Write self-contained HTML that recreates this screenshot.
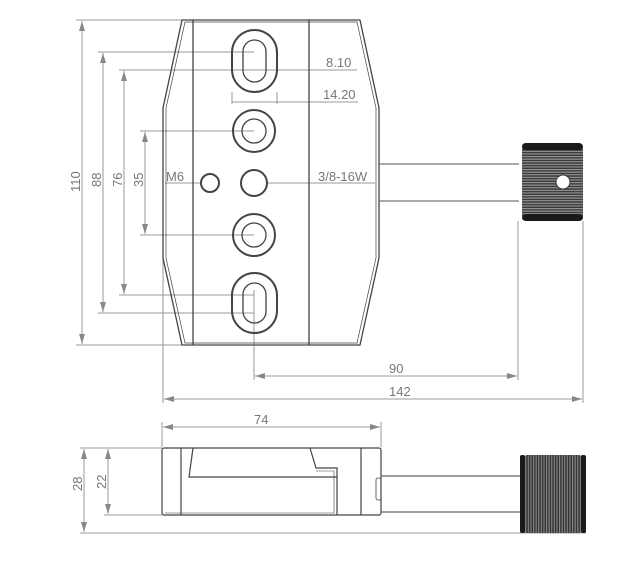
<!DOCTYPE html>
<html><head><meta charset="utf-8"><style>
html,body{margin:0;padding:0;background:#fff;}
svg{display:block;}
text{font-family:"Liberation Sans",sans-serif;fill:#777;font-size:13px;}
</style></head><body>
<svg width="640" height="577" viewBox="0 0 640 577" xmlns="http://www.w3.org/2000/svg">
<defs>
<pattern id="hs" width="4" height="2.6" patternUnits="userSpaceOnUse"><rect width="4" height="2.6" fill="#3a3a3a"/><rect width="4" height="1.1" fill="#999"/></pattern>
<pattern id="vs" width="2.6" height="4" patternUnits="userSpaceOnUse"><rect width="2.6" height="4" fill="#333"/><rect width="1.1" height="4" fill="#888"/></pattern>
<marker id="a" viewBox="0 0 10 6" refX="10" refY="3" markerWidth="10" markerHeight="6" orient="auto-start-reverse" markerUnits="userSpaceOnUse"><path d="M0,0 L10,3 L0,6z" fill="#888"/></marker>
</defs>
<g stroke="#999" stroke-width="1" fill="none">
<line x1="76" y1="20" x2="182" y2="20"/>
<line x1="76" y1="345" x2="182" y2="345"/>
<line x1="98" y1="52" x2="254" y2="52"/>
<line x1="98" y1="313" x2="254" y2="313"/>
<line x1="119" y1="70" x2="254" y2="70"/>
<line x1="119" y1="295" x2="254" y2="295"/>
<line x1="140" y1="131" x2="254" y2="131"/>
<line x1="140" y1="235" x2="254" y2="235"/>
<line x1="163" y1="258" x2="163" y2="403"/>
<line x1="254" y1="290" x2="254" y2="380"/>
<line x1="518" y1="221" x2="518" y2="380"/>
<line x1="583" y1="221" x2="583" y2="403"/>
<line x1="82" y1="21" x2="82" y2="344" marker-start="url(#a)" marker-end="url(#a)"/>
<line x1="103" y1="53" x2="103" y2="312" marker-start="url(#a)" marker-end="url(#a)"/>
<line x1="124" y1="71" x2="124" y2="294" marker-start="url(#a)" marker-end="url(#a)"/>
<line x1="145" y1="132" x2="145" y2="234" marker-start="url(#a)" marker-end="url(#a)"/>
<line x1="255" y1="376" x2="517" y2="376" marker-start="url(#a)" marker-end="url(#a)"/>
<line x1="164" y1="399" x2="582" y2="399" marker-start="url(#a)" marker-end="url(#a)"/>
<line x1="243" y1="70" x2="357" y2="70"/>
<line x1="232" y1="102" x2="358" y2="102"/>
<line x1="232" y1="92" x2="232" y2="104"/><line x1="277" y1="92" x2="277" y2="104"/>
<line x1="267" y1="183" x2="375" y2="183"/>
<line x1="165" y1="183" x2="201" y2="183"/>
<line x1="162" y1="422" x2="162" y2="447"/>
<line x1="381" y1="422" x2="381" y2="447"/>
<line x1="163" y1="427" x2="380" y2="427" marker-start="url(#a)" marker-end="url(#a)"/>
<line x1="80" y1="448" x2="162" y2="448"/>
<line x1="104" y1="515" x2="162" y2="515"/>
<line x1="80" y1="533" x2="586" y2="533"/>
<line x1="84" y1="449" x2="84" y2="532" marker-start="url(#a)" marker-end="url(#a)"/>
<line x1="108" y1="449" x2="108" y2="514" marker-start="url(#a)" marker-end="url(#a)"/>
</g>
<g stroke="#444" stroke-width="1.3" fill="none">
<path d="M182,20 L360,20 L379,108 L379,258 L360,345 L182,345 L163,258 L163,108 Z"/>
<path d="M185,22 L357,22 L376,108 L376,258 L357,343 L185,343 L166,258 L166,108 Z" stroke-width="0.7"/>
<line x1="193" y1="20" x2="193" y2="345"/><line x1="309" y1="20" x2="309" y2="345"/>
<rect x="232" y="30" width="45" height="62" rx="22.5" stroke-width="2"/>
<rect x="243" y="40" width="23" height="42" rx="11.5"/>
<rect x="232" y="273" width="45" height="60" rx="22.5" stroke-width="2"/>
<rect x="243" y="283" width="23" height="40" rx="11.5"/>
<circle cx="254" cy="131" r="21" stroke-width="2"/><circle cx="254" cy="131" r="12"/>
<circle cx="254" cy="235" r="21" stroke-width="2"/><circle cx="254" cy="235" r="12"/>
<circle cx="254" cy="183" r="13" stroke-width="2"/>
<circle cx="210" cy="183" r="9" stroke-width="2"/>
<line x1="379" y1="164" x2="519" y2="164" stroke="#777"/>
<line x1="379" y1="201" x2="519" y2="201" stroke="#777"/>
</g>
<rect x="522" y="143" width="61" height="78" rx="6" fill="url(#hs)"/>
<rect x="522" y="143" width="61" height="7" rx="4" fill="#1a1a1a"/>
<rect x="522" y="214" width="61" height="7" rx="4" fill="#1a1a1a"/>
<circle cx="563" cy="182" r="7" fill="#fff" stroke="#333"/>
<g stroke="#444" stroke-width="1.2" fill="none">
<rect x="162" y="448" width="219" height="67" rx="2"/>
<line x1="181" y1="448" x2="181" y2="515"/><line x1="361" y1="448" x2="361" y2="515"/>
<path d="M193,448 L189,477 L337,477 L337,515"/>
<path d="M310,448 L316,468 L337,468 L337,477" />
<path d="M316,471 L334,471 L334,513 L165,513" stroke-width="0.6"/>
<line x1="381" y1="476" x2="520" y2="476" stroke="#666"/>
<line x1="381" y1="512" x2="520" y2="512" stroke="#666"/>
<rect x="376" y="478" width="5" height="22" rx="2" stroke-width="0.8"/>
</g>
<rect x="520" y="455" width="66" height="78" rx="8" fill="url(#vs)"/>
<rect x="520" y="455" width="5" height="78" rx="2" fill="#1a1a1a"/>
<rect x="581" y="455" width="5" height="78" rx="2" fill="#1a1a1a"/>
<text x="326" y="67">8.10</text>
<text x="323" y="99">14.20</text>
<text x="318" y="181">3/8-16W</text>
<text x="166" y="181">M6</text>
<text x="389" y="373">90</text>
<text x="389" y="396">142</text>
<text x="254" y="424">74</text>
<text transform="translate(80,192) rotate(-90)">110</text>
<text transform="translate(101,187) rotate(-90)">88</text>
<text transform="translate(122,187) rotate(-90)">76</text>
<text transform="translate(143,187) rotate(-90)">35</text>
<text transform="translate(82,491) rotate(-90)">28</text>
<text transform="translate(106,489) rotate(-90)">22</text>
</svg>
</body></html>
